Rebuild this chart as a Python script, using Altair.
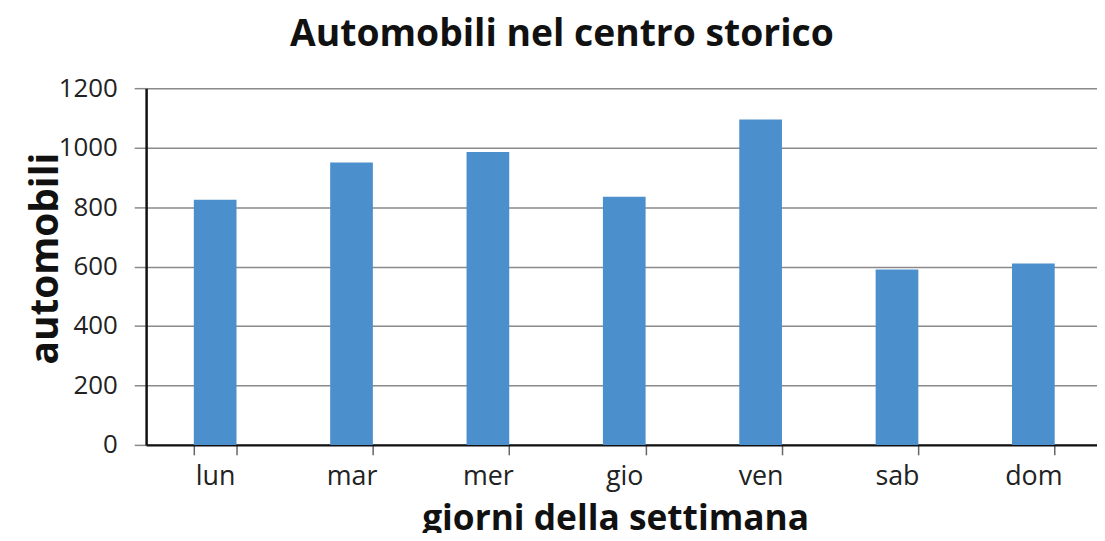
import altair as alt
import pandas as pd

giorni = ["lun", "mar", "mer", "gio", "ven", "sab", "dom"]
automobili = [825, 950, 985, 835, 1095, 590, 610]
y_ticks = [0, 200, 400, 600, 800, 1000, 1200]

df = pd.DataFrame({"giorno": giorni, "auto": automobili})

FONT = "Open Sans"

chart = alt.Chart(df).mark_bar(color="#4b8fcc").encode(
    x=alt.X(
        "giorno:N",
        sort=giorni,
        scale=alt.Scale(paddingInner=0.687, paddingOuter=0.33, align=0.53),
        axis=alt.Axis(
            title="giorni della settimana",
            labelAngle=0,
            labelFont=FONT,
            labelFontSize=27,
            labelColor="#222222",
            labelBaseline="alphabetic",
            labelPadding=30,
            tickBand="extent",
            tickSize=10,
            tickColor="#666666",
            tickWidth=1.5,
            domainColor="#111111",
            domainWidth=2.5,
            titleFont=FONT,
            titleFontSize=35.5,
            titleFontWeight="bold",
            titleColor="#111111",
            titleX=472,
            titleY=85,
            titleAlign="center",
            titleBaseline="alphabetic",
            grid=False,
        ),
    ),
    y=alt.Y(
        "auto:Q",
        scale=alt.Scale(domain=[0, 1200], nice=False),
        axis=alt.Axis(
            title="automobili",
            values=y_ticks,
            format="d",
            labelFont=FONT,
            labelFontSize=26,
            labelColor="#222222",
            labelPadding=17,
            tickSize=12,
            tickColor="#8a8a8a",
            tickWidth=1.5,
            domainColor="#111111",
            domainWidth=2.5,
            grid=True,
            gridColor="#8a8a8a",
            gridWidth=1.5,
            titleFont=FONT,
            titleFontSize=39,
            titleFontWeight="bold",
            titleColor="#111111",
            titleAngle=-90,
            titleX=-89,
            titleY=171,
            titleAlign="center",
            titleBaseline="alphabetic",
        ),
    ),
).properties(
    width=957,
    height=359,
    title=alt.TitleParams(
        "Automobili nel centro storico",
        font=FONT,
        fontSize=37.5,
        fontWeight="bold",
        color="#111111",
        anchor="middle",
        frame="group",
        dx=-60,
        offset=22,
    ),
    autosize=alt.AutoSizeParams(type="none"),
    padding={"left": 139, "top": 79, "right": 0, "bottom": 87},
).configure_view(stroke=None).configure(background="white")

chart.save("out.html", embed_options={"renderer": "svg", "actions": False})
